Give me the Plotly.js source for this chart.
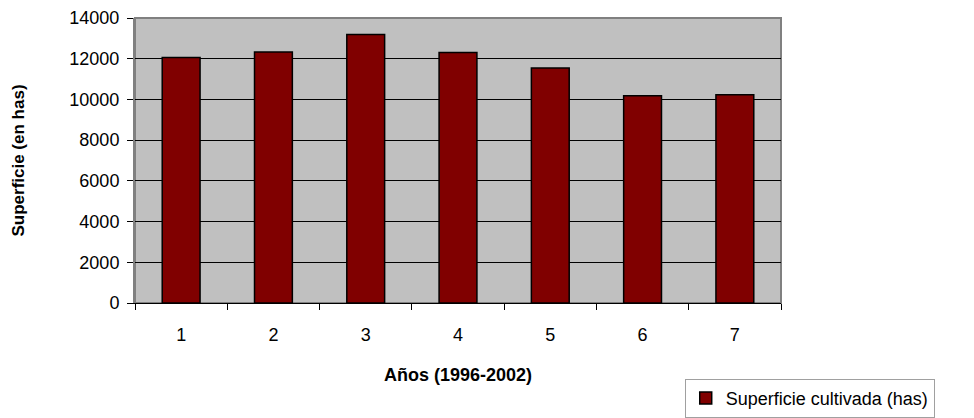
<!DOCTYPE html>
<html>
<head>
<meta charset="utf-8">
<script src="https://cdn.plot.ly/plotly-3.0.1.min.js"></script>
<style>html,body{margin:0;padding:0;background:#fff}#chart{width:974px;height:418px}</style>
</head>
<body>
<div id="chart"></div>
<script>
const years = ["1", "2", "3", "4", "5", "6", "7"];
const superficie = [12060, 12330, 13190, 12300, 11540, 10180, 10230];
const seriesName = "Superficie cultivada (has)";
const yTicks = [0, 2000, 4000, 6000, 8000, 10000, 12000, 14000];

const trace = {
  type: "bar",
  x: years,
  y: superficie,
  name: seriesName,
  showlegend: true,
  marker: {color: "#800000", line: {color: "#000000", width: 1.5}},
  width: 0.41
};

const layout = {
  width: 974, height: 418,
  margin: {l: 135, r: 193, t: 18, b: 115, autoexpand: false},
  paper_bgcolor: "#ffffff",
  plot_bgcolor: "#c0c0c0",
  font: {family: "Liberation Sans, Arial, sans-serif", size: 18, color: "#000"},
  showlegend: true,
  xaxis: {
    type: "category",
    tickson: "boundaries",
    ticks: "outside", ticklen: 6, tickcolor: "#000", tickwidth: 1,
    showline: true, linecolor: "#000", linewidth: 1,
    showgrid: false, zeroline: false,
    tickfont: {size: 18},
    ticklabelstandoff: 15,
    automargin: false,
    title: {text: "<b>Años (1996-2002)</b>", font: {size: 18}, standoff: 24}
  },
  yaxis: {
    range: [0, 14000],
    tickvals: yTicks,
    tickformat: "d",
    ticks: "outside", ticklen: 6, tickcolor: "#000", tickwidth: 1,
    showline: true, linecolor: "#808080", linewidth: 2,
    showgrid: true, gridcolor: "#000", gridwidth: 1,
    zeroline: false,
    tickfont: {size: 18},
    ticklabelstandoff: 4,
    automargin: false,
    title: {text: "<b>Superficie (en has)</b>", font: {size: 17}, standoff: 40}
  },
  shapes: [{
    type: "rect", xref: "paper", yref: "paper", x0: 0, x1: 1, y0: 0, y1: 1,
    line: {color: "#808080", width: 2}, fillcolor: "rgba(0,0,0,0)", layer: "below"
  }],
  legend: {
    xref: "container", yref: "container",
    x: 0.703, y: 0.094, xanchor: "left", yanchor: "top",
    bordercolor: "#a0a0a0", borderwidth: 1, bgcolor: "#fff",
    font: {size: 18}, itemwidth: 30, tracegroupgap: 0
  }
};

Plotly.newPlot("chart", [trace], layout, {displayModeBar: false, staticPlot: true});
</script>
</body>
</html>
